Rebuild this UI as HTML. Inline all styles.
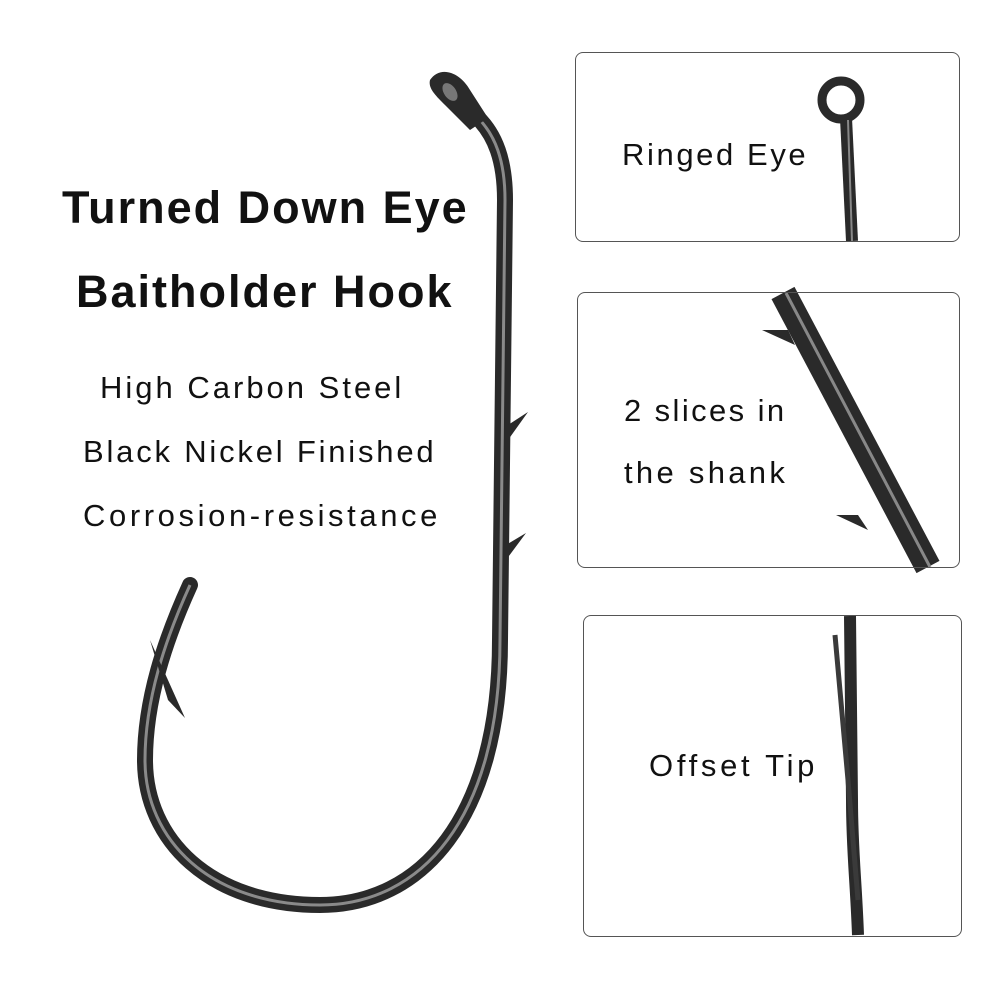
<!DOCTYPE html>
<html><head><meta charset="utf-8"><style>
body{margin:0;width:1000px;height:1000px;background:#fff;position:relative;overflow:hidden;font-family:"Liberation Sans",sans-serif;}
.t{position:absolute;color:#111;white-space:nowrap;font-size:31px;letter-spacing:3px;}
.b{font-size:45px;font-weight:bold;letter-spacing:2px;}
.box{position:absolute;border:1.5px solid #555;border-radius:8px;background:transparent;}
</style></head><body>
<svg width="1000" height="1000" style="position:absolute;left:0;top:0">
<path d="M478 118 C495 135 505 160 505 200 L500 640 C500 820 420 905 320 905 C210 905 145 840 145 760 C145 700 165 640 190 585" fill="none" stroke="#2a2a2a" stroke-width="16" stroke-linecap="round"/>
<path d="M478 118 C495 135 505 160 505 200 L500 640 C500 820 420 905 320 905 C210 905 145 840 145 760 C145 700 165 640 190 585" fill="none" stroke="#8a8a8a" stroke-width="3"/>
<path d="M430 80 C440 65 460 72 470 90 L488 118 L470 130 L445 105 C435 95 428 88 430 80Z" fill="#2a2a2a"/>
<ellipse cx="450" cy="92" rx="6" ry="10" fill="#777" transform="rotate(-35 450 92)"/>
<path d="M508 425 L528 412 L508 440Z M506 545 L526 533 L506 560Z" fill="#2a2a2a"/>
<path d="M150 640 L185 718 L168 700Z" fill="#2a2a2a"/>
<circle cx="841" cy="100" r="19" fill="none" stroke="#2a2a2a" stroke-width="9"/>
<path d="M846 118 L852 241" stroke="#2a2a2a" stroke-width="12"/>
<path d="M848 120 L852 241" stroke="#888" stroke-width="2"/>
<path d="M783 293 L928 567" stroke="#2a2a2a" stroke-width="26"/>
<path d="M786 293 L930 567" stroke="#888" stroke-width="3"/>
<path d="M788 330 L762 330 L795 345Z M858 515 L836 515 L868 530Z" fill="#2a2a2a"/>
<path d="M850 616 L852 800 C852 850 856 880 858 935" stroke="#2a2a2a" stroke-width="12" fill="none"/>
<path d="M835 635 L848 780 L858 900" stroke="#3a3a3a" stroke-width="5" fill="none"/>
</svg>
<div class="box" style="left:575px;top:52px;width:383px;height:188px"></div>
<div class="box" style="left:577px;top:292px;width:381px;height:274px"></div>
<div class="box" style="left:583px;top:615px;width:377px;height:320px"></div>
<div class="t b" style="left:62px;top:182px">Turned Down Eye</div>
<div class="t b" style="left:76px;top:266px">Baitholder Hook</div>
<div class="t" style="left:100px;top:370px">High Carbon Steel</div>
<div class="t" style="left:83px;top:434px;letter-spacing:2.8px">Black Nickel Finished</div>
<div class="t" style="left:83px;top:498px;letter-spacing:3.6px">Corrosion-resistance</div>
<div class="t" style="left:622px;top:137px;letter-spacing:2.6px">Ringed Eye</div>
<div class="t" style="left:624px;top:393px;letter-spacing:2.4px">2 slices in</div>
<div class="t" style="left:624px;top:455px;letter-spacing:3.3px">the shank</div>
<div class="t" style="left:649px;top:748px;letter-spacing:3.7px">Offset Tip</div>
</body></html>
